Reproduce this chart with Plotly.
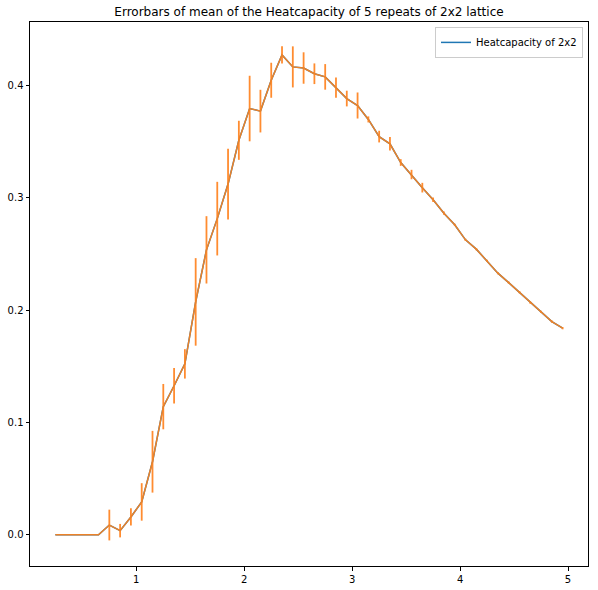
import plotly.graph_objects as go

temperature = [0.25, 0.35, 0.45, 0.55, 0.65, 0.75, 0.85, 0.95, 1.05, 1.15,
               1.25, 1.35, 1.45, 1.55, 1.65, 1.75, 1.85, 1.95, 2.05, 2.15,
               2.25, 2.35, 2.45, 2.55, 2.65, 2.75, 2.85, 2.95, 3.05, 3.15,
               3.25, 3.35, 3.45, 3.55, 3.65, 3.75, 3.85, 3.95, 4.05, 4.15,
               4.25, 4.35, 4.45, 4.55, 4.65, 4.75, 4.85, 4.95]

heatcap_mean = [0.0, 0.0, 0.0, 0.0, 0.0, 0.0086, 0.0036, 0.0158, 0.0292, 0.065,
                0.1141, 0.1327, 0.1522, 0.2074, 0.2538, 0.2816, 0.3124, 0.3514, 0.3797, 0.3774,
                0.4049, 0.4275, 0.4168, 0.4158, 0.4107, 0.4079, 0.3984, 0.3886, 0.3824, 0.370,
                0.3547, 0.3483, 0.3316, 0.3209, 0.3092, 0.2984, 0.2865, 0.2761, 0.2627, 0.2544,
                0.244, 0.233, 0.2246, 0.2161, 0.2068, 0.1985, 0.1899, 0.184]

heatcap_err = [0.0, 0.0, 0.0, 0.0, 0.0, 0.0137, 0.006, 0.0077, 0.0167, 0.0275,
               0.0202, 0.0159, 0.0131, 0.039, 0.030, 0.0328, 0.0315, 0.0174, 0.0292, 0.019,
               0.0156, 0.0076, 0.0183, 0.014, 0.0092, 0.0114, 0.009, 0.007, 0.0116, 0.0027,
               0.0052, 0.006, 0.003, 0.0042, 0.0043, 0.002, 0.0015, 0.001, 0.001, 0.001,
               0.001, 0.001, 0.001, 0.001, 0.001, 0.001, 0.001, 0.001]

x_ticks = [1, 2, 3, 4, 5]
y_ticks = [0.0, 0.1, 0.2, 0.3, 0.4]

title_text = "Errorbars of mean of the Heatcapacity of 5 repeats of 2x2 lattice"
legend_label = "Heatcapacity of 2x2"

FONT = "DejaVu Sans"

fig = go.Figure()
fig.add_trace(go.Scatter(
    x=temperature, y=heatcap_mean, mode="lines",
    line=dict(color="#1f77b4", width=1.5),
    name=legend_label, showlegend=True,
))
fig.add_trace(go.Scatter(
    x=temperature, y=heatcap_mean, mode="lines",
    line=dict(color="#ec8228", width=1.5),
    error_y=dict(type="data", array=heatcap_err, visible=True,
                 color="#ff8c30", thickness=1.8, width=0),
    showlegend=False,
))

axis_common = dict(
    showline=True, linecolor="black", linewidth=1, mirror=True,
    ticks="outside", ticklen=3.5, tickwidth=1, tickcolor="black",
    showgrid=False, zeroline=False, automargin=False,
    tickfont=dict(family=FONT, size=10, color="black"),
)

fig.update_layout(
    width=598, height=590, autosize=False,
    margin=dict(l=30, r=10, t=22, b=24, autoexpand=False),
    paper_bgcolor="white", plot_bgcolor="white",
    font=dict(family=FONT, size=10, color="black"),
    title=dict(text=title_text, x=0.5, xref="paper", xanchor="center",
               y=1 - 12 / 590, yref="container", yanchor="middle",
               font=dict(family=FONT, size=12, color="black")),
    xaxis=dict(range=[0.015, 5.185], tickvals=x_ticks,
               ticktext=[str(v) for v in x_ticks], **axis_common),
    yaxis=dict(range=[-0.0279, 0.4568], tickvals=y_ticks,
               ticktext=[f"{v:.1f}" for v in y_ticks], **axis_common),
    legend=dict(x=0.991, y=0.991, xanchor="right", yanchor="top",
                bgcolor="rgba(255,255,255,0.8)", bordercolor="#cccccc",
                borderwidth=1, font=dict(family=FONT, size=10, color="black"),
                itemwidth=30, tracegroupgap=0),
)

fig.write_html("out.html", config={"displayModeBar": False},
               post_script="document.body.style.margin='0px';document.body.style.overflow='hidden';")
